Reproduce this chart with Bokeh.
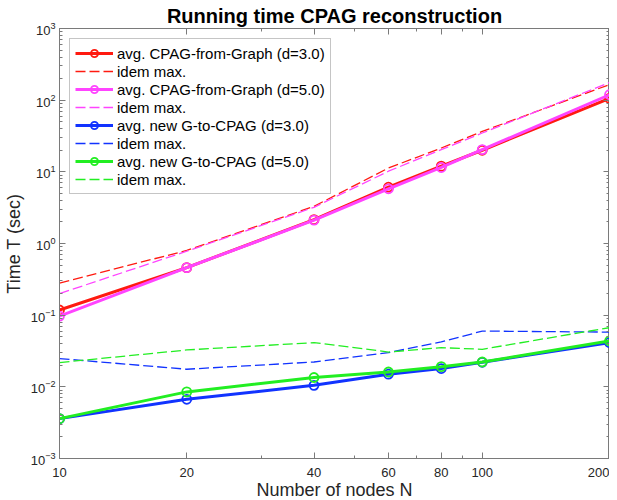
from bokeh.plotting import figure
from bokeh.models import (Range1d, FixedTicker, LogAxis, Legend, LegendItem,
                          LogTickFormatter, PrintfTickFormatter)
from bokeh.embed import file_html
from bokeh.resources import INLINE

# ---- data ----
N = [10, 20, 40, 60, 80, 100, 200]
avg_cpag_d3 = [0.118, 0.46, 2.15, 6.1, 12.0, 20.0, 106]
max_cpag_d3 = [0.28, 0.80, 3.3, 11.3, 21.5, 36.6, 165]
avg_cpag_d5 = [0.097, 0.46, 2.12, 5.8, 11.5, 20.4, 119]
max_cpag_d5 = [0.20, 0.78, 3.2, 10.2, 20.4, 34.8, 176]
avg_new_d3 = [0.0036, 0.0067, 0.0105, 0.0150, 0.0180, 0.0220, 0.0414]
max_new_d3 = [0.0248, 0.0176, 0.0222, 0.0300, 0.0423, 0.0600, 0.0580]
avg_new_d5 = [0.0036, 0.0085, 0.0135, 0.0161, 0.0191, 0.0222, 0.0436]
max_new_d5 = [0.0218, 0.0327, 0.0414, 0.0306, 0.0352, 0.0334, 0.0670]

x_ticks = [10, 20, 40, 60, 80, 100, 200]
x_minor = [30, 50, 70, 90]
y_ticks = [1e-3, 1e-2, 1e-1, 1e0, 1e1, 1e2, 1e3]
y_minor = [m * 10.0 ** e for e in range(-3, 3) for m in range(2, 10)]

series = [
    ("avg. CPAG-from-Graph (d=3.0)", avg_cpag_d3, "#ff1a10", True),
    ("idem max.", max_cpag_d3, "#ff1a10", False),
    ("avg. CPAG-from-Graph (d=5.0)", avg_cpag_d5, "#ff44ff", True),
    ("idem max.", max_cpag_d5, "#ff44ff", False),
    ("avg. new G-to-CPAG (d=3.0)", avg_new_d3, "#1133ff", True),
    ("idem max.", max_new_d3, "#1133ff", False),
    ("avg. new G-to-CPAG (d=5.0)", avg_new_d5, "#22ee22", True),
    ("idem max.", max_new_d5, "#22ee22", False),
]

FONT = "Liberation Sans"
AXC = "#7a7a7a"
TXC = "#262626"

p = figure(width=609, height=502, x_axis_type="log", y_axis_type="log",
           x_range=Range1d(10, 200), y_range=Range1d(1e-3, 1e3),
           output_backend="svg", toolbar_location=None,
           min_border_left=50, min_border_right=0, min_border_top=24,
           min_border_bottom=30)

p.title.text = "Running time CPAG reconstruction"
p.title.align = "center"
p.title.text_font = FONT
p.title.text_font_size = "20px"
p.title.text_font_style = "bold"
p.title.text_color = "#000000"
p.title.standoff = 4

p.xgrid.visible = False
p.ygrid.visible = False
p.outline_line_color = AXC
p.outline_line_width = 1

xt = FixedTicker(ticks=x_ticks, minor_ticks=x_minor)
yt = FixedTicker(ticks=y_ticks, minor_ticks=y_minor)

def style_axis(ax, labels=True):
    ax.axis_line_color = AXC
    ax.major_tick_line_color = AXC
    ax.minor_tick_line_color = AXC
    ax.major_tick_in = 6
    ax.major_tick_out = 0
    ax.minor_tick_in = 3
    ax.minor_tick_out = 0
    ax.major_label_text_font = FONT
    ax.major_label_text_color = TXC
    if labels:
        ax.major_label_text_font_size = "13px"
    else:
        ax.major_label_text_font_size = "1px"
        ax.major_label_text_alpha = 0.0
        ax.major_label_standoff = 0
        ax.axis_label_standoff = 0
    ax.axis_label_text_font = FONT
    ax.axis_label_text_font_size = "18px"
    ax.axis_label_text_font_style = "normal"
    ax.axis_label_text_color = TXC

p.xaxis.ticker = xt
p.xaxis.formatter = PrintfTickFormatter(format="%d")
p.yaxis.ticker = yt
p.yaxis.formatter = LogTickFormatter()
style_axis(p.xaxis[0])
style_axis(p.yaxis[0])
p.xaxis.axis_label = "Number of nodes N"
p.yaxis.axis_label = "Time T (sec)"
p.xaxis.major_label_standoff = 9
p.yaxis.major_label_standoff = 4
p.xaxis.axis_label_standoff = 0
p.yaxis.axis_label_standoff = 4

top = LogAxis(ticker=xt, formatter=PrintfTickFormatter(format=" "))
style_axis(top, labels=False)
p.add_layout(top, "above")
right = LogAxis(ticker=yt, formatter=PrintfTickFormatter(format=" "))
style_axis(right, labels=False)
p.add_layout(right, "right")

items = []
for label, vals, color, solid in series:
    if solid:
        r1 = p.line(N, vals, line_color=color, line_width=3)
        r2 = p.scatter(N, vals, marker="circle", size=9, line_color=color,
                       line_width=1.8, fill_color=None)
        items.append(LegendItem(label=label, renderers=[r1, r2]))
    else:
        r1 = p.line(N, vals, line_color=color, line_width=1.3, line_dash="10 4")
        items.append(LegendItem(label=label, renderers=[r1]))

legend = Legend(items=items, location="top_left")
legend.margin = 10
legend.padding = 5
legend.spacing = 0
legend.label_height = 18
legend.glyph_height = 18
legend.glyph_width = 38
legend.label_standoff = 4
legend.label_text_font = FONT
legend.label_text_font_size = "15px"
legend.label_text_color = "#000000"
legend.border_line_color = "#8c8c8c"
legend.border_line_width = 1
legend.background_fill_color = "white"
legend.background_fill_alpha = 1.0
p.add_layout(legend)

open("out.html", "w").write(file_html(p, INLINE))
